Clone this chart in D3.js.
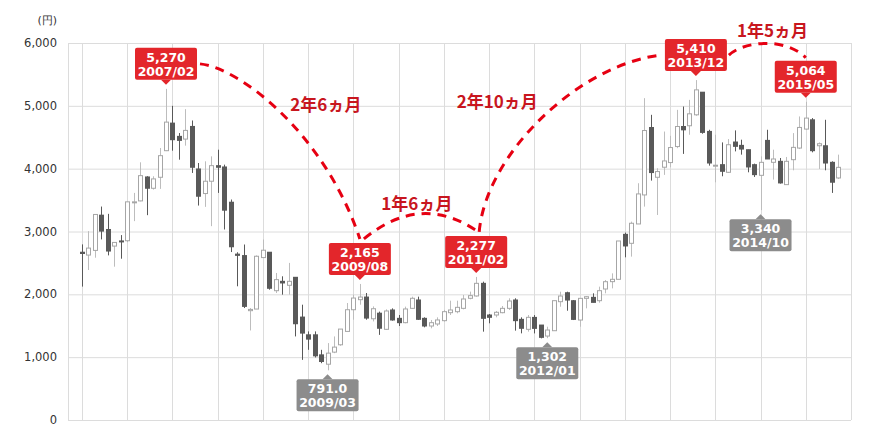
<!DOCTYPE html>
<html><head><meta charset="utf-8">
<script src="https://cdn.jsdelivr.net/npm/d3@7/dist/d3.min.js"></script>
<style>html,body{margin:0;padding:0;background:#fff;}svg{display:block;}</style>
</head><body><svg id="c" width="878" height="446"></svg>
<script>
// ---- data (monthly OHLC, 2006/01 .. 2015/10) ----
const startMonth = new Date(2006, 0, 1);
const endMonth = new Date(2015, 10, 1);
const months = d3.timeMonth.range(startMonth, endMonth).map(d3.timeFormat("%Y/%m"));
const open  = [2670,2625,2699,3260,3032,2768,2850,2853,3460,3487,3868,3688,3863,4286,4725,4514,4471,4672,3995,3604,3800,4048,4027,3466,2640,2617,1740,1766,2585,2670,2058,2207,2144,2271,1638,1356,1356,1037,888,1080,1197,1410,1755,1915,1957,1611,1700,1443,1751,1618,1549,1777,1910,1618,1496,1528,1581,1708,1724,1777,1937,1974,2175,1671,1671,1708,1777,1910,1602,1443,1633,1511,1336,1421,1883,2026,1899,1591,1936,1952,1899,2085,2202,2239,2955,2812,3120,3582,4655,3863,4023,4097,4352,4671,4683,4857,5217,4593,4040,4064,3942,4424,4371,4302,4064,3894,4450,4101,4117,3746,4143,4328,4630,4778,4365,4365,4101,3852];
const high  = [2795,3006,3271,3397,3281,2826,2943,3472,3614,4101,3880,3879,4329,5270,5000,4567,4947,4767,4090,4117,4196,4302,4064,3509,2670,2793,1782,2620,2872,2670,2340,2287,2500,2271,1835,1410,1410,1117,1224,1330,1447,1862,1995,2165,2021,1808,1725,1761,1777,1671,1804,1963,1963,1634,1592,1634,1751,1899,1899,1990,2043,2277,2202,1687,1735,1814,1937,1937,1634,1671,1670,1511,1485,1899,2042,2042,1909,1936,1973,2016,2122,2228,2334,2849,2982,3157,3768,5122,4857,4007,4591,4522,4936,4989,5095,5410,5217,4619,4540,4418,4471,4609,4461,4302,4080,4196,4619,4302,4170,4186,4566,4831,5064,4805,4418,4778,4117,4223];
const low   = [2123,2387,2583,2874,2620,2440,2567,2830,3165,3480,3260,3667,3678,4280,4286,4143,4366,3932,3413,3392,3085,3614,3032,2673,2128,1782,1425,1766,2585,2074,2021,1995,1995,1330,957,1117,995,904,791,1064,1181,1410,1596,1835,1596,1569,1355,1433,1581,1496,1539,1767,1592,1475,1459,1496,1565,1671,1698,1761,1921,1963,1406,1539,1634,1698,1751,1422,1379,1406,1378,1299,1302,1421,1803,1739,1591,1485,1777,1872,1867,2016,2095,2239,2589,2600,3120,3396,3810,3263,3901,4023,4326,4235,4540,4841,4556,4048,3783,3879,3932,4275,4223,3942,3868,3340,4154,3826,3762,3746,3974,4312,4619,4260,3995,3974,3614,3836];
const close = [2650,2736,3271,3006,2689,2826,2840,3472,3472,3889,3688,3837,4207,4741,4461,4450,4609,4022,3561,3800,4048,4022,3339,2757,2620,1808,1760,2606,2702,2096,2234,2181,2207,1532,1383,1287,1021,931,1064,1160,1447,1755,1941,1957,1622,1771,1460,1735,1592,1549,1767,1937,1602,1496,1549,1592,1724,1751,1793,1926,1979,2175,1618,1634,1714,1777,1894,1581,1459,1634,1458,1315,1432,1899,1973,1909,1601,1936,1962,1872,2058,2201,2239,2849,2770,3131,3598,4607,3938,3954,4123,4336,4671,4618,4873,5254,4577,4090,4055,3958,4381,4355,4312,4027,3905,4101,4154,4154,3773,4117,4339,4656,4805,4286,4397,4090,3784,4021];
const yTicks = [0,1000,2000,3000,4000,5000,6000];
const yUnit = "(円)";
// annotations: month, value, kind (high/low), colour class
const annMonths = ["2007/02","2009/03","2009/08","2011/02","2012/01","2013/12","2014/10","2015/05"];
const annValues = [5270, 791.0, 2165, 2277, 1302, 5410, 3340, 5064];
const annText   = ["5,270","791.0","2,165","2,277","1,302","5,410","3,340","5,064"];
const annKind   = ["high","low","high","high","low","high","low","high"];
const annRed    = [true,false,true,true,false,true,false,true];
// period arcs between peaks
const arcFrom  = ["2007/02","2009/08","2011/02","2013/12"];
const arcTo    = ["2009/08","2011/02","2013/12","2015/05"];
const arcLabel = ["2年6ヵ月","1年6ヵ月","2年10ヵ月","1年5ヵ月"];

// ---- layout ----
const svg = d3.select("#c");
const L = 68, R = 851, T = 43, B = 420;
const x = d3.scaleLinear().domain([0, 119]).range([82, R]);
const y = d3.scaleLinear().domain([0, 6000]).range([B, T]);
const font = "'DejaVu Sans', Verdana, sans-serif";

// grid
const g = svg.append("g");
g.selectAll("line.h").data(yTicks).join("line")
  .attr("x1", L).attr("x2", R).attr("y1", d => y(d)+0.5).attr("y2", d => y(d)+0.5)
  .attr("stroke", "#dcdcdc").attr("stroke-width", 1);
g.selectAll("line.v").data(d3.range(0, 120, 7)).join("line")
  .attr("x1", d => Math.round(x(d))+0.5).attr("x2", d => Math.round(x(d))+0.5)
  .attr("y1", T).attr("y2", B)
  .attr("stroke", "#dcdcdc").attr("stroke-width", 1);
g.append("line").attr("x1", L+0.5).attr("x2", L+0.5).attr("y1", T).attr("y2", B+0.5)
  .attr("stroke", "#dcdcdc");

// y labels
svg.append("g").selectAll("text").data(yTicks).join("text")
  .attr("x", 57).attr("y", d => y(d) + 4)
  .attr("text-anchor", "end").attr("font-family", font).attr("font-size", 11.5)
  .attr("fill", "#333").text(d => d3.format(",")(d));
svg.append("text").attr("x", 57).attr("y", 24).attr("text-anchor", "end")
  .attr("font-family", font).attr("font-size", 11).attr("fill", "#333").text(yUnit);

// candles
const data = months.map((m, i) => ({m, i, o: open[i], h: high[i], l: low[i], c: close[i]}));
const cg = svg.append("g");
const bw = 5;
data.forEach(d => {
  const up = d.c >= d.o;
  const cx = Math.round(x(d.i)) + 0.5;
  cg.append("line").attr("x1", cx).attr("x2", cx).attr("y1", y(d.h)).attr("y2", y(d.l))
    .attr("stroke", up ? "#bdbdbd" : "#595959").attr("stroke-width", 1);
  const top = y(Math.max(d.o, d.c)), bot = y(Math.min(d.o, d.c));
  if (up) {
    cg.append("rect").attr("x", cx - 2).attr("y", top).attr("width", 4)
      .attr("height", Math.max(1, bot - top)).attr("fill", "#fff")
      .attr("stroke", "#a6a6a6").attr("stroke-width", 1);
  } else {
    cg.append("rect").attr("x", cx - 2.5).attr("y", top - 0.5).attr("width", bw)
      .attr("height", Math.max(2, bot - top + 1)).attr("fill", "#595959");
  }
});

// annotation boxes
const bwid = 62, bh = 32, tri = 5, gap = 4;
const boxes = {};
const ag = svg.append("g");
annMonths.forEach((m, k) => {
  const i = months.indexOf(m);
  const cx = x(i);
  const vy = y(annValues[k]);
  const col = annRed[k] ? "#e3262b" : "#8c8c8c";
  let top, tipY, baseY;
  if (annKind[k] === "high") {
    tipY = vy - gap; baseY = tipY - tri; top = baseY - bh;
  } else {
    tipY = vy + gap; baseY = tipY + tri; top = baseY;
  }
  boxes[m] = {cx, top, bottom: top + bh, left: cx - bwid/2, right: cx + bwid/2};
  ag.append("rect").attr("x", cx - bwid/2).attr("y", top).attr("width", bwid).attr("height", bh)
    .attr("rx", 2).attr("fill", col);
  ag.append("path").attr("d", `M${cx-5},${baseY}L${cx},${tipY}L${cx+5},${baseY}Z`).attr("fill", col);
  ag.append("text").attr("x", cx).attr("y", top + 14).attr("text-anchor", "middle")
    .attr("font-family", font).attr("font-weight", "bold").attr("font-size", 12.5)
    .attr("fill", "#fff").text(annText[k]);
  ag.append("text").attr("x", cx).attr("y", top + 28).attr("text-anchor", "middle")
    .attr("font-family", font).attr("font-weight", "bold").attr("font-size", 12.5)
    .attr("fill", "#fff").text(m);
});

// arcs
const red = "#e60012";
const arcG = svg.append("g");
function dashed(dStr) {
  arcG.append("path").attr("d", dStr).attr("fill", "none").attr("stroke", red)
    .attr("stroke-width", 3).attr("stroke-dasharray", "9,7");
}
{
  // 1: 2007/02 right side -> 2009/08 top
  const a = boxes[arcFrom[0]], b = boxes[arcTo[0]];
  const p0 = [a.right + 3, (a.top + a.bottom)/2], p3 = [b.cx, b.top - 4];
  dashed(`M${p0}C${p0[0]+40},${p0[1]+4} ${p3[0]-35},${p0[1]+70} ${p3}`);
  // 2: 2009/08 top -> 2011/02 top
  const c = boxes[arcFrom[1]], e = boxes[arcTo[1]];
  const q0 = [c.cx + 4, c.top - 4], q2 = [e.cx + 2, e.top - 4];
  dashed(`M${q0}Q${(q0[0]+q2[0])/2},${Math.min(q0[1],q2[1]) - 40} ${q2}`);
  // 3: 2011/02 top -> 2013/12 left side
  const f = boxes[arcFrom[2]], h = boxes[arcTo[2]];
  const r0 = [f.cx + 3, f.top - 4], r3 = [h.left - 3, (h.top + h.bottom)/2];
  dashed(`M${r0}C${r0[0]+7},${r0[1]-80} ${r3[0]-80},${r3[1]+8} ${r3}`);
  // 4: 2013/12 right side -> 2015/05 top
  const s = boxes[arcFrom[3]], u = boxes[arcTo[3]];
  const s0 = [s.right + 2, (s.top + s.bottom)/2], s2 = [u.cx, u.top - 3];
  dashed(`M${s0}C${s0[0]+15},${s0[1]-14} ${s2[0]-20},${s0[1]-18} ${s2}`);
}
// arc labels
const lblPos = [[boxes["2009/08"].cx - 34, 111], [boxes["2009/08"].cx + 57, 210], [boxes["2011/02"].cx + 21, 108], [boxes["2014/10"].cx + 12, 37]];
arcLabel.forEach((t, k) => {
  svg.append("text").attr("x", lblPos[k][0]).attr("y", lblPos[k][1]).attr("text-anchor", "middle")
    .attr("font-family", "'Noto Sans CJK JP', sans-serif").attr("font-weight", "bold")
    .attr("font-size", 17).attr("fill", "#c8161e").text(t);
});
</script></body></html>
